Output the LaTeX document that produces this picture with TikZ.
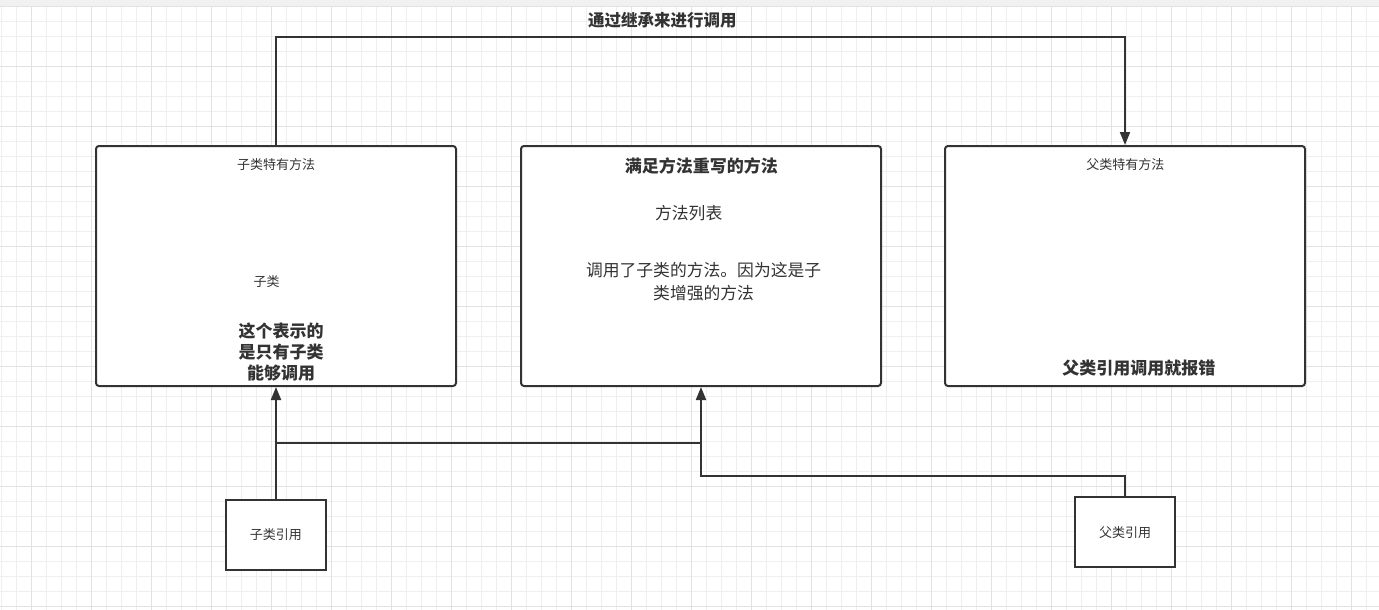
\documentclass[tikz,border=0pt]{standalone}
\usepackage{fontspec}
\setmainfont{Noto Sans CJK SC}
\usetikzlibrary{arrows.meta}
\definecolor{ink}{HTML}{333333}
\definecolor{gridminor}{HTML}{EFEFEF}
\definecolor{gridmajor}{HTML}{E2E2E2}
\definecolor{topband}{HTML}{F1F1F1}
\begin{document}
\begin{tikzpicture}[x=1pt,y=-1pt,
  bigbox/.style={draw=ink, line width=2pt, rounded corners=3pt, minimum width=360pt, minimum height=240pt, fill=white, inner sep=0pt},
  refbox/.style={draw=ink, line width=2pt, minimum width=100pt, minimum height=70pt, fill=white, inner sep=0pt},
  smalltxt/.style={text=ink, inner sep=0pt, font=\fontsize{13}{15}\selectfont},
  midtxt/.style={text=ink, inner sep=0pt, align=center, font=\fontsize{16.8}{22.7}\selectfont},
  boldtxt/.style={text=ink, inner sep=0pt, align=center, font=\fontsize{17}{21}\selectfont\bfseries},
  conn/.style={draw=ink, line width=2pt},
  arr/.style={conn, -{Triangle[length=13pt,width=10pt]}},
]
\useasboundingbox (0,0) rectangle (1379,610);
\fill[white] (0,0) rectangle (1379,610);
\fill[topband] (0,0) rectangle (1379,7);
% grid
\foreach \x in {1.7,16.7,...,1379} \draw[gridminor, line width=1pt] (\x,7) -- (\x,610);
\foreach \y in {21.7,36.7,...,610} \draw[gridminor, line width=1pt] (0,\y) -- (1379,\y);
\foreach \x in {31.7,91.7,...,1379} \draw[gridmajor, line width=1pt] (\x,7) -- (\x,610);
\foreach \y in {6.7,66.7,...,610} \draw[gridmajor, line width=1pt] (0,\y) -- (1379,\y);

% boxes
\node[bigbox] (b1) at (276,266) {};
\node[bigbox] (b2) at (701,266) {};
\node[bigbox] (b3) at (1125,266) {};
\node[refbox] (sref) at (276,534.7) {};
\node[refbox] (pref) at (1125,531.7) {};

% texts
\node[boldtxt, font=\fontsize{16.5}{20}\selectfont\bfseries] (title) at (662.3,20) {通过继承来进行调用};
\node[smalltxt] (t1a) at (276.2,164.5) {子类特有方法};
\node[smalltxt] (t1b) at (266.7,281.5) {子类};
\node[boldtxt] (t1c) at (281,352) {这个表示的\\是只有子类\\能够调用};
\node[boldtxt] (t2a) at (701.3,165.7) {满足方法重写的方法};
\node[midtxt] (t2b) at (688.7,213.3) {方法列表};
\node[midtxt] (t2c) at (703.6,281.5) {调用了子类的方法。因为这是子\\类增强的方法};
\node[smalltxt] (t3a) at (1125.3,164.3) {父类特有方法};
\node[boldtxt] (t3b) at (1138.8,368.3) {父类引用调用就报错};
\node[smalltxt] (t4) at (275.8,535) {子类引用};
\node[smalltxt] (t5) at (1125,532.3) {父类引用};

% connectors
\coordinate (topc) at (700,36.7);
\draw[arr] (b1.north) |- (topc) -| (b3.north);
\draw[arr] (sref.north) -- (b1.south);
\coordinate (j1) at (276,443);
\coordinate (j2) at (701,443);
\draw[conn, line width=1.5pt] (j1) -- (j2);
\draw[arr] (pref.north) -- ++(0,-20) -| (b2.south);
\end{tikzpicture}
\end{document}
